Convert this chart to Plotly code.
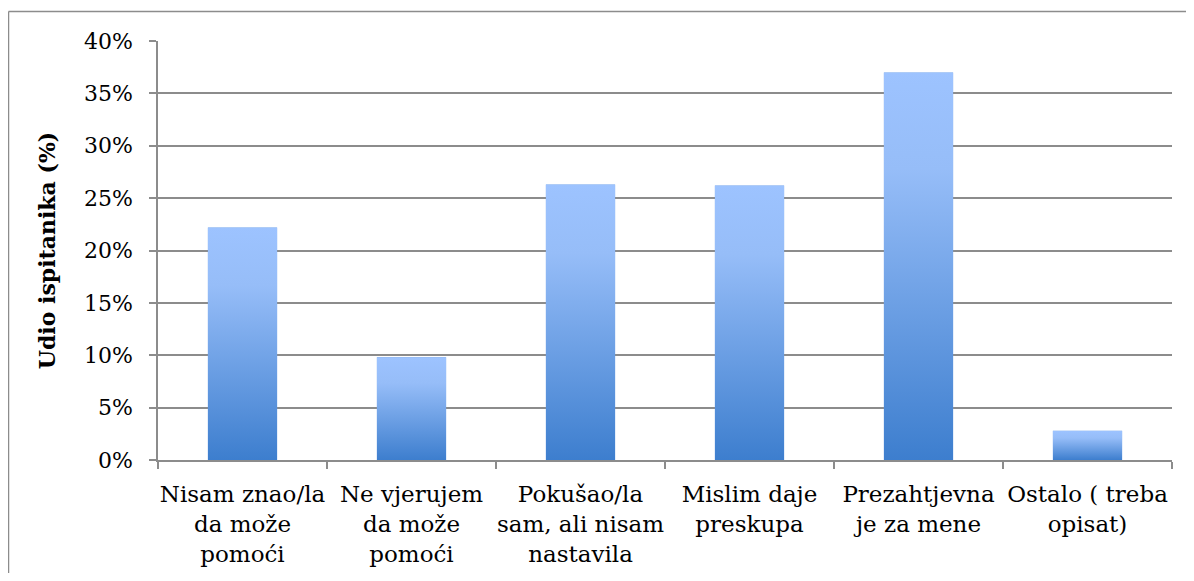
import plotly.graph_objects as go

categories = [
    "Nisam znao/la<br>da može<br>pomoći",
    "Ne vjerujem<br>da može<br>pomoći",
    "Pokušao/la<br>sam, ali nisam<br>nastavila",
    "Mislim daje<br>preskupa",
    "Prezahtjevna<br>je za mene",
    "Ostalo ( treba<br>opisat)",
]
values = [22.2, 9.8, 26.3, 26.2, 37.0, 2.8]
y_ticks = [0, 5, 10, 15, 20, 25, 30, 35, 40]
y_tick_text = [f"{t}%" for t in y_ticks]

FONT = "DejaVu Serif"
GRID = "#8c8c8c"
BAR_W = 0.41

# page body has an 8px margin on every side; figure sized to fit the window
OFF = 8
W, H = 1194 - 2 * OFF, 581 - 2 * OFF
ML, MT = 158 - OFF, 41 - OFF
MR = W - (1172 - OFF)
MB = H - (460 - OFF)

fig = go.Figure()
fig.add_trace(go.Bar(
    x=categories, y=values, width=BAR_W,
    marker=dict(color="#6d9fe8", line=dict(width=0)),
    hovertemplate="%{y}%<extra></extra>",
))

grad_svg = (
    "data:image/svg+xml;utf8,"
    "<svg xmlns='http://www.w3.org/2000/svg' width='10' height='100' viewBox='0 0 10 100' preserveAspectRatio='none'>"
    "<defs><linearGradient id='g' x1='0' y1='0' x2='0' y2='1'>"
    "<stop offset='0' stop-color='%239DC3FF'/>"
    "<stop offset='0.25' stop-color='%2396BDF8'/>"
    "<stop offset='1' stop-color='%233D7ECE'/>"
    "</linearGradient></defs>"
    "<rect x='0' y='0' width='10' height='100' fill='url(%23g)'/></svg>"
)
images = []
for i, v in enumerate(values):
    images.append(dict(
        source=grad_svg, xref="x", yref="y",
        x=i, y=0, sizex=BAR_W, sizey=v,
        xanchor="center", yanchor="bottom",
        sizing="stretch", layer="above",
    ))

pw = W - ML - MR
ph = H - MT - MB
def px_to_paper_x(px):
    return (px - OFF - ML) / pw
def px_to_paper_y(py):
    return (H - MB - (py - OFF)) / ph

frame_line = dict(color=GRID, width=1.5)
fig.update_layout(
    width=W, height=H,
    margin=dict(l=ML, r=MR, t=MT, b=MB, autoexpand=False),
    paper_bgcolor="white", plot_bgcolor="white",
    font=dict(family=FONT, size=23, color="black"),
    showlegend=False,
    images=images,
    shapes=[
        dict(type="line", xref="paper", yref="paper",
             x0=px_to_paper_x(8.5), x1=px_to_paper_x(8.5),
             y0=px_to_paper_y(11.5), y1=px_to_paper_y(OFF + H),
             line=frame_line, layer="below"),
        dict(type="line", xref="paper", yref="paper",
             x0=px_to_paper_x(8.5), x1=px_to_paper_x(OFF + W),
             y0=px_to_paper_y(11.5), y1=px_to_paper_y(11.5),
             line=frame_line, layer="below"),
    ],
)
fig.update_xaxes(
    type="category",
    showline=True, linecolor=GRID, linewidth=1.5,
    ticks="outside", tickson="boundaries", ticklen=7, tickcolor=GRID, tickwidth=1.5,
    showgrid=False,
    tickfont=dict(family=FONT, size=23, color="black"),
    tickangle=0, ticklabelstandoff=13,
)
fig.update_yaxes(
    range=[0, 40], tickmode="array", tickvals=y_ticks, ticktext=y_tick_text,
    showline=True, linecolor=GRID, linewidth=1.5,
    ticks="outside", ticklen=7, tickcolor=GRID, tickwidth=1.5,
    showgrid=True, gridcolor=GRID, gridwidth=1.5,
    zeroline=False,
    tickfont=dict(family=FONT, size=22, color="black"),
    ticklabelstandoff=12,
    title=dict(text="<b>Udio ispitanika (%)</b>", font=dict(family=FONT, size=22, color="black"), standoff=22),
    automargin=False,
)

fig.write_html("out.html")
